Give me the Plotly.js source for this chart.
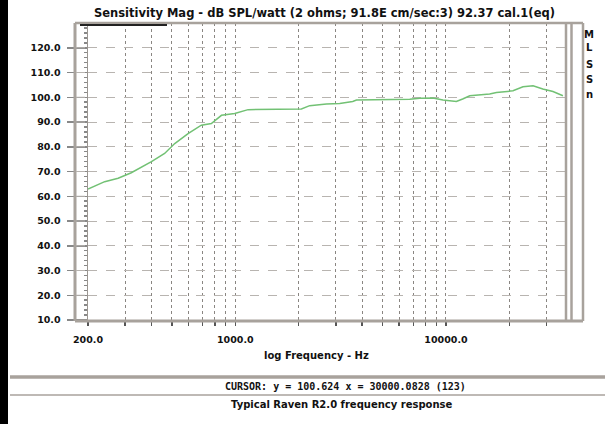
<!DOCTYPE html>
<html>
<head>
<meta charset="utf-8">
<script src="https://cdn.plot.ly/plotly-3.0.1.min.js"></script>
<style>
html,body{margin:0;padding:0;background:#fff;}
#chart{width:605px;height:424px;}
</style>
</head>
<body>
<div id="chart"></div>
<script>
// ---- data ----
var freqHz = [200, 240, 278, 321, 400, 462, 516, 597, 690, 770, 860, 994, 1150, 1680, 2060, 2255, 2707, 3130, 3610, 3760, 4490, 5820, 6730, 7500, 8670, 9680, 11200, 12000, 12970, 16120, 17360, 20800, 23200, 25900, 28800, 32200, 35900];
var splDb  = [62.9, 65.9, 67.3, 69.5, 74.0, 77.3, 81.3, 85.3, 88.7, 89.4, 92.7, 93.4, 95.0, 95.0, 95.3, 96.6, 97.3, 97.5, 98.3, 98.9, 99.0, 99.0, 99.2, 99.6, 99.7, 98.9, 98.3, 99.3, 100.6, 101.3, 101.9, 102.6, 104.2, 104.6, 103.3, 102.3, 100.6];

var xTickVals = [200,300,400,500,600,700,800,900,1000,2000,3000,4000,5000,6000,7000,8000,9000,10000,20000,30000];
var xTickText = ["200.0","","","","","","","","1000.0","","","","","","","","","10000.0","",""];
var yTickVals = [10,20,30,40,50,60,70,80,90,100,110,120];
var yTickText = ["10.0","20.0","30.0","40.0","50.0","60.0","70.0","80.0","90.0","100.0","110.0","120.0"];

var titleText = "Sensitivity Mag - dB SPL/watt (2 ohms; 91.8E cm/sec:3) 92.37 cal.1(eq)";
var xTitleText = "log Frequency - Hz";
var cursorText = "CURSOR: y = 100.624 x = 30000.0828 (123)";
var captionText = "Typical Raven R2.0 frequency response";
var sideLetters = ["M","L","S","S","n"];

// ---- layout helpers (pixel -> paper) ----
var L = 88, R = 39, T = 23, B = 104, W = 605, H = 424;
var PW = W - L - R, PH = H - T - B;
function px(x){ return (x - L) / PW; }
function py(y){ return (H - B - y) / PH; }

var frameCol = "#a8a29c";
var boldFont = {family: "DejaVu Sans, Arial, sans-serif", size: 10, color: "#111", weight: "bold"};
var tickFont = {family: "DejaVu Sans, Arial, sans-serif", size: 9.5, color: "#111", weight: "bold"};
var titleFont = {family: "DejaVu Sans, Arial, sans-serif", size: 11.5, color: "#111", weight: "bold"};

var shapes = [];
function line(x0,y0,x1,y1,col,w,dash){
  shapes.push({type:"line", xref:"paper", yref:"paper", x0:px(x0), y0:py(y0), x1:px(x1), y1:py(y1),
    line:{color:col, width:w, dash:dash||"solid"}, layer:"above"});
}
// left black strip
shapes.push({type:"rect", xref:"paper", yref:"paper", x0:px(0), x1:px(8), y0:py(424), y1:py(0), fillcolor:"#000", line:{width:0}, layer:"above"});
// frame
line(75,23,583,23,frameCol,2.5);
line(75,321,583,321,frameCol,3);
line(75,23,75,321,frameCol,3);
line(583,23,583,321,frameCol,2.5);
line(566,23,566,321,frameCol,2.5);
line(571.5,23,571.5,321,frameCol,2.5);
line(80,25,167,25,"#222",2);
// horizontal grid extensions left of the plot
for (var i = 0; i < yTickVals.length; i++) {
  var yp = T + (130 - yTickVals[i]) * PH / 120;
  if (yTickVals[i] > 10) line(76,yp,88,yp,"#b8b4b0",1,"dash");
}
// bottom separator lines
line(10,377,605,377,frameCol,3.5);
line(10,395,605,395,frameCol,1.5);

var annotations = [
  {text:titleText, xref:"paper", yref:"paper", x:px(92), y:py(13), xanchor:"left", yanchor:"middle", showarrow:false, font:titleFont},
  {text:xTitleText, xref:"paper", yref:"paper", x:px(316), y:py(355), xanchor:"center", yanchor:"middle", showarrow:false, font:boldFont},
  {text:cursorText, xref:"paper", yref:"paper", x:px(345), y:py(386), xanchor:"center", yanchor:"middle", showarrow:false, font:{family:"DejaVu Sans Mono, monospace", size:10, color:"#111", weight:"bold"}},
  {text:captionText, xref:"paper", yref:"paper", x:px(342), y:py(404), xanchor:"center", yanchor:"middle", showarrow:false, font:boldFont}
];
var sideY = [34, 48, 64, 79, 94];
for (var k = 0; k < sideLetters.length; k++) {
  annotations.push({text:sideLetters[k], xref:"paper", yref:"paper", x:px(589), y:py(sideY[k]), xanchor:"center", yanchor:"middle", showarrow:false, font:boldFont});
}

var trace = {
  x: freqHz, y: splDb, type:"scatter", mode:"lines",
  line:{color:"#72c174", width:1.5, shape:"linear"}, hoverinfo:"skip"
};

var layout = {
  width: W, height: H,
  margin:{l:L, r:R, t:T, b:B, pad:0},
  paper_bgcolor:"#fff", plot_bgcolor:"#fff",
  showlegend:false,
  xaxis:{
    type:"log", range:[Math.log10(200), Math.log10(200) + PW/210.7],
    tickmode:"array", tickvals:xTickVals, ticktext:xTickText,
    ticks:"outside", ticklen:5, tickcolor:"#555", tickwidth:1.5,
    showgrid:true, gridcolor:"#8a8682", griddash:"dot", gridwidth:1,
    showline:false, zeroline:false,
    tickfont:tickFont, ticklabelstandoff:6
  },
  yaxis:{
    range:[10,130],
    tickmode:"array", tickvals:yTickVals, ticktext:yTickText,
    ticks:"outside", ticklen:20, tickcolor:"#888", tickwidth:1.5,
    showgrid:true, gridcolor:"#b8b4b0", griddash:"dash", gridwidth:1,
    showline:true, linecolor:"#9a9590", linewidth:1.5,
    minor:{dtick:2, ticks:"outside", ticklen:3, tickcolor:"#888", showgrid:false},
    zeroline:false, tickfont:tickFont, ticklabelstandoff:4
  },
  shapes: shapes,
  annotations: annotations
};

Plotly.newPlot("chart", [trace], layout, {displayModeBar:false, staticPlot:true});
</script>
</body>
</html>
